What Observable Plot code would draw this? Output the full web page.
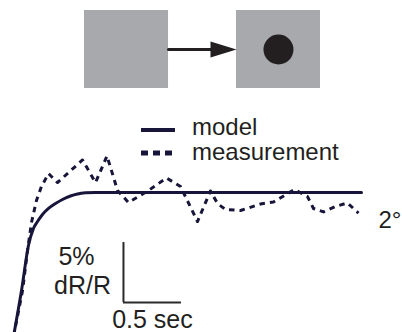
<!DOCTYPE html>
<html>
<head>
<meta charset="utf-8">
<script src="https://cdn.jsdelivr.net/npm/d3@7"></script>
<script src="https://cdn.jsdelivr.net/npm/@observablehq/plot@0.6"></script>
<style>
  html, body { margin: 0; padding: 0; background: #fff; }
  #wrap { position: relative; width: 402px; height: 332px; overflow: hidden; font-family: "Liberation Sans", Arial, sans-serif; }
  #wrap svg { display: block; }
  .leg { position: absolute; left: 141px; height: 20px; display: flex; align-items: center; font-size: 24px; line-height: 20px; color: #231f20; white-space: nowrap; }
  .leg svg { margin-right: 17px; }
</style>
</head>
<body>
<div id="wrap"></div>
<script>
// ---- stimulus schematic ----
const panels = ["blank", "dot"];

// ---- model trace: time (s) and dR/R (%) ----
const modelT = [0, 0.069, 0.129, 0.172, 0.207, 0.25, 0.302, 0.362, 0.422, 0.491, 0.552, 0.621, 0.707, 1.2, 2.0, 3.0];
const modelV = [0, 3.83, 7.58, 9.0, 9.58, 10.17, 10.67, 11.08, 11.42, 11.71, 11.88, 11.97, 12.0, 12.0, 12.0, 12.0];

// ---- measurement trace ----
const measT = [0, 0.078, 0.121, 0.155, 0.198, 0.241, 0.302, 0.379, 0.595, 0.707, 0.806, 0.897, 0.991, 1.164, 1.319, 1.44, 1.586, 1.698, 1.759, 1.828, 1.957, 2.129, 2.241, 2.422, 2.534, 2.586, 2.672, 2.776, 2.879, 2.974];
const measV = [0, 3.83, 7.17, 9.5, 11.33, 12.5, 13.58, 12.83, 14.71, 12.83, 15.04, 12.17, 11.17, 12.17, 13.21, 12.5, 9.58, 12.13, 11.08, 10.58, 10.5, 11.04, 11.21, 12.25, 11.67, 10.67, 10.38, 10.83, 11.13, 10.29];

// ---- labels ----
const seriesNames = ["model", "measurement"];
const stimulusLabel = "2°";
const scaleBarSec = 0.5, scaleBarPct = 5;
const scaleLabels = ["5%", "dR/R", "0.5 sec"];

const ink = "#231f20";
const navy = "#17163a";
const gray = "#a7a9ac";
const font = "'Liberation Sans', Arial, sans-serif";

const modelData = modelT.map((t, i) => ({t, v: modelV[i]}));
const measData = measT.map((t, i) => ({t, v: measV[i]}));

const wrap = document.getElementById("wrap");

// custom elongated filled arrowhead (tip at origin, pointing right)
const arrowHead = {draw(ctx) { ctx.moveTo(0, 0); ctx.lineTo(-26, -8); ctx.lineTo(-26, 8); ctx.closePath(); }};

const icon = Plot.plot({
  width: 402, height: 100, margin: 0,
  x: {type: "band", domain: panels, range: [84, 320], paddingInner: 0.447, paddingOuter: 0, round: false, axis: null},
  y: {type: "band", domain: ["stim"], range: [10, 88], padding: 0, round: false, axis: null},
  marks: [
    Plot.cell(panels, {x: d => d, y: () => "stim", fill: gray}),
    Plot.arrow([{a: panels[0], b: panels[1]}], {x1: "a", x2: "b", y1: () => "stim", y2: () => "stim", insetStart: 42, insetEnd: 66, headLength: 0, stroke: ink, strokeWidth: 3}),
    Plot.dot([panels[1]], {x: d => d, y: () => "stim", symbol: arrowHead, dx: -42, fill: ink, stroke: "none"}),
    Plot.dot([panels[1]], {x: d => d, y: () => "stim", r: 15, fill: ink, stroke: "none"})
  ]
});
wrap.appendChild(icon);

// scale-bar origin (in data units)
const barT = 0.948, barV = 2.83;

const chart = Plot.plot({
  width: 402, height: 232, margin: 0,
  x: {domain: [0, 3.2], range: [13, 13 + 3.2 * 116], axis: null},
  y: {domain: [0, 20], range: [236, -4], axis: null},
  style: {fontFamily: font, color: ink, background: "transparent"},
  marks: [
    Plot.line(measData, {x: "t", y: "v", stroke: navy, strokeWidth: 3, strokeDasharray: "5.5,5", strokeLinecap: "butt"}),
    Plot.line(modelData, {x: "t", y: "v", stroke: navy, strokeWidth: 3, curve: "monotone-x"}),
    Plot.ruleX([barT], {x: d => d, y1: barV, y2: barV + scaleBarPct, stroke: "#2a2a2a", strokeWidth: 2}),
    Plot.ruleY([barV], {y: d => d, x1: barT, x2: barT + scaleBarSec, stroke: "#2a2a2a", strokeWidth: 2}),
    Plot.text([scaleLabels[0]], {x: () => barT, y: () => barV + scaleBarPct, text: d => d, dx: -47, dy: 14, fontSize: 25, fill: ink, textAnchor: "middle"}),
    Plot.text([scaleLabels[1]], {x: () => barT, y: () => barV, text: d => d, dx: -41, dy: -17, fontSize: 25, fill: ink, textAnchor: "middle"}),
    Plot.text([scaleLabels[2]], {x: () => barT + scaleBarSec / 2, y: () => barV, text: d => d, dy: 17, fontSize: 25, fill: ink, textAnchor: "middle"}),
    Plot.text([measData[measData.length - 1]], {x: "t", y: "v", text: () => stimulusLabel, dx: 20, dy: 7, fontSize: 24, fill: ink, textAnchor: "start"})
  ]
});
wrap.appendChild(chart);

// legend
const legendRows = [
  {name: seriesNames[0], top: 117, dash: null},
  {name: seriesNames[1], top: 142, dash: "7,5"}
];
for (const row of legendRows) {
  const div = document.createElement("div");
  div.className = "leg";
  div.style.top = row.top + "px";
  const ns = "http://www.w3.org/2000/svg";
  const s = document.createElementNS(ns, "svg");
  s.setAttribute("width", 34); s.setAttribute("height", 20);
  const ln = document.createElementNS(ns, "line");
  ln.setAttribute("x1", 0); ln.setAttribute("x2", 34);
  ln.setAttribute("y1", row.dash ? 11 : 13); ln.setAttribute("y2", row.dash ? 11 : 13);
  ln.setAttribute("stroke", navy); ln.setAttribute("stroke-width", row.dash ? 5 : 4);
  if (row.dash) ln.setAttribute("stroke-dasharray", row.dash);
  s.appendChild(ln);
  const span = document.createElement("span");
  span.textContent = row.name;
  div.appendChild(s); div.appendChild(span);
  wrap.appendChild(div);
}
</script>
</body>
</html>
